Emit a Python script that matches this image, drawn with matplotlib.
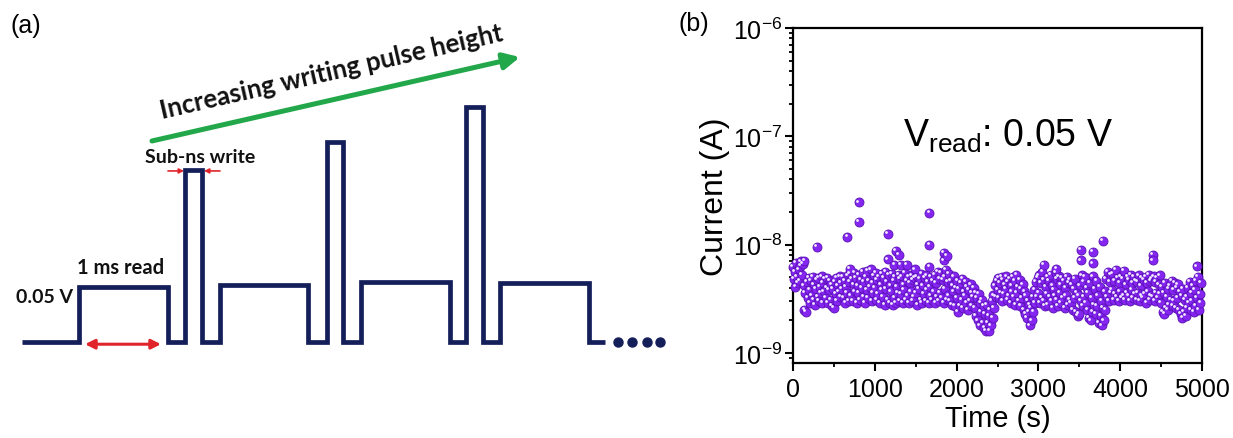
import numpy as np
import matplotlib
matplotlib.use("Agg")
import matplotlib.pyplot as plt
from matplotlib.transforms import ScaledTranslation
from matplotlib.ticker import LogLocator, MultipleLocator, NullFormatter

plt.rcParams["font.family"] = ["Liberation Sans", "DejaVu Sans"]
plt.rcParams["mathtext.fontset"] = "custom"
plt.rcParams["mathtext.rm"] = "Liberation Sans"
plt.rcParams["mathtext.it"] = "Liberation Sans:italic"
plt.rcParams["mathtext.default"] = "regular"
plt.rcParams["axes.unicode_minus"] = False

# -----------------------------
# Data
# -----------------------------

# (a) pulse scheme: step edges (arb. time units) and levels between edges (units of read level)
edge_t = [22, 79, 168, 185, 202, 220, 308, 327, 343, 361, 450, 466, 483, 500, 589, 605]
level = [0, 1.0, 0, 3.13, 0, 1.04, 0, 3.64, 0, 1.09, 0, 4.27, 0, 1.07, 0]
dots_t = [618, 632, 647, 660]

# (b) retention: current read every 10 s, in nA
time_s = np.arange(0, 5000, 10)
current_nA = [
    6.2, 4.8, 5.6, 4.1, 6.8, 5.0, 4.4, 5.9, 4.6, 6.4,
    7.0, 5.3, 6.6, 4.2, 2.5, 3.6, 2.4, 4.5, 3.2, 4.9,
    3.8, 2.9, 4.6, 3.4, 5.0, 3.1, 4.3, 2.8, 3.9, 4.7,
    3.3, 4.9, 3.0, 4.1, 3.6, 5.1, 2.9, 4.4, 3.7, 4.8,
    3.2, 4.0, 4.9, 2.9, 3.8, 4.6, 3.1, 4.3, 2.7, 3.9,
    2.6, 4.5, 3.5, 4.9, 3.0, 4.2, 3.7, 5.1, 3.3, 4.4,
    3.9, 5.0, 3.2, 4.6, 2.9, 4.1, 3.6, 5.2, 3.0, 4.5,
    5.4, 3.4, 4.8, 3.0, 4.3, 5.5, 3.7, 4.9, 2.9, 4.2,
    3.6, 5.3, 3.1, 4.7, 4.0, 5.6, 3.3, 4.5, 2.9, 5.0,
    3.8, 5.7, 3.2, 4.6, 4.1, 5.9, 3.0, 4.4, 3.6, 5.2,
    4.0, 5.5, 3.1, 4.7, 3.5, 5.0, 2.9, 4.3, 3.8, 5.4,
    3.3, 4.9, 2.8, 5.6, 3.9, 4.5, 3.1, 5.3, 2.9, 4.2,
    3.7, 5.4, 2.8, 4.6, 3.2, 5.0, 2.9, 4.1, 3.6, 5.3,
    3.0, 4.8, 3.5, 5.1, 2.9, 4.3, 3.8, 5.5, 3.1, 4.6,
    3.4, 5.0, 2.9, 4.4, 3.7, 5.2, 3.0, 4.7, 3.3, 4.9,
    3.6, 5.1, 2.8, 4.3, 3.9, 4.8, 3.1, 5.4, 2.9, 4.2,
    3.5, 4.9, 3.0, 5.2, 3.8, 4.5, 2.9, 4.1, 3.4, 5.0,
    3.1, 4.6, 3.7, 5.3, 2.9, 4.4, 3.3, 5.6, 3.0, 4.8,
    3.6, 5.5, 3.2, 4.7, 2.9, 5.0, 3.9, 5.8, 3.1, 4.5,
    3.4, 5.4, 3.0, 4.6, 2.8, 4.2, 3.7, 5.1, 2.7, 4.0,
    3.2, 4.6, 2.4, 3.9, 2.7, 4.4, 3.1, 4.8, 2.6, 3.7,
    3.4, 4.5, 2.9, 4.1, 2.5, 3.8, 3.0, 4.3, 2.7, 3.6,
    3.3, 4.0, 2.6, 3.6, 2.2, 3.2, 2.0, 3.5, 1.8, 2.9,
    2.4, 3.1, 1.9, 2.7, 1.7, 2.3, 1.6, 2.8, 1.9, 2.2,
    1.6, 2.5, 1.8, 3.0, 2.1, 3.4, 2.6, 4.2, 3.3, 4.6,
    3.8, 4.9, 3.2, 4.4, 3.6, 5.0, 3.0, 4.7, 3.5, 4.3,
    3.9, 5.1, 3.1, 4.5, 3.4, 4.8, 2.9, 4.2, 3.7, 5.0,
    3.3, 4.6, 2.8, 5.3, 3.6, 4.1, 3.0, 4.7, 2.7, 3.9,
    3.2, 4.3, 2.5, 3.7, 2.3, 3.4, 2.1, 3.0, 2.4, 2.8,
    1.8, 2.6, 2.0, 3.3, 2.4, 3.8, 2.9, 4.5, 3.3, 4.9,
    3.6, 5.2, 2.9, 4.4, 3.2, 5.6, 3.0, 4.7, 2.7, 4.1,
    3.5, 5.0, 2.8, 4.6, 3.3, 5.3, 3.0, 4.2, 2.6, 3.8,
    3.4, 5.5, 3.1, 4.8, 2.7, 5.1, 3.6, 4.3, 2.9, 4.9,
    3.2, 4.6, 2.6, 4.0, 3.4, 5.0, 2.8, 4.4, 3.1, 4.7,
    2.9, 4.3, 2.5, 3.9, 3.2, 4.8, 2.4, 3.6, 2.2, 3.4,
    2.3, 4.2, 3.0, 5.2, 2.7, 4.5, 3.3, 5.0, 2.9, 4.0,
    2.5, 3.6, 2.1, 4.4, 2.0, 3.2, 2.4, 5.1, 2.8, 3.9,
    2.3, 4.6, 2.7, 3.4, 1.9, 4.1, 2.2, 3.0, 1.8, 2.6,
    2.0, 3.7, 2.5, 4.8, 3.3, 5.6, 3.0, 4.5, 3.6, 5.3,
    3.8, 5.4, 3.1, 4.6, 3.5, 5.8, 3.3, 4.9, 3.0, 4.4,
    3.7, 5.1, 3.2, 4.8, 3.4, 5.7, 3.1, 4.3, 3.6, 5.0,
    3.4, 4.7, 3.0, 5.3, 3.8, 4.4, 3.2, 5.0, 3.5, 4.6,
    3.1, 4.5, 3.6, 5.2, 3.0, 4.2, 3.4, 4.9, 3.2, 4.7,
    3.5, 5.0, 2.9, 4.4, 3.7, 5.3, 3.1, 4.6, 3.4, 4.8,
    3.3, 5.1, 3.0, 4.5, 3.6, 4.9, 3.2, 4.3, 3.5, 5.2,
    2.9, 4.1, 2.4, 3.6, 2.3, 4.4, 2.6, 3.3, 2.5, 3.9,
    2.8, 4.2, 3.1, 4.6, 2.7, 3.8, 3.0, 4.4, 2.6, 4.0,
    3.2, 4.3, 2.5, 3.7, 2.3, 3.4, 2.1, 3.9, 2.4, 3.1,
    2.2, 3.3, 2.6, 4.0, 2.9, 4.5, 2.5, 3.6, 3.0, 4.2,
    2.4, 3.8, 2.7, 4.6, 3.2, 5.0, 2.5, 3.5, 2.9, 4.4,
]
# isolated high readings (s, nA)
spike_t = [140, 290, 664, 697, 807, 807, 1157, 1157, 1240, 1260, 1296, 1320, 1390, 1490,
           1667, 1667, 1667, 1846, 1846, 1883, 3069, 3220, 3517, 3517, 3664, 3664, 3793,
           4397, 4397, 4935]
spike_nA = [7.1, 9.6, 11.7, 6.0, 24.5, 16.2, 12.6, 7.3, 6.5, 8.8, 8.1, 6.5, 6.5, 5.9,
            19.7, 10.0, 6.2, 8.4, 7.15, 7.85, 6.5, 6.0, 9.0, 7.15, 8.55, 6.7, 10.9,
            8.1, 7.15, 6.3]

y_ticks = [1e-9, 1e-8, 1e-7, 1e-6]

W, H = 1233, 439
fig = plt.figure(figsize=(W / 100, H / 100), dpi=100)

# -----------------------------
# (a) pulse scheme
# -----------------------------
navy = "#141f5a"
red = "#e0242a"
green = "#22a84a"

ax_a = fig.add_axes([0, 0, 680 / W, 1])
ax_a.set_xlim(0, 680)
ax_a.set_ylim(-1.745, 6.236)
ax_a.axis("off")

ax_a.stairs(level, edge_t, baseline=None, color=navy, lw=3.4)
ax_a.plot(dots_t, [0] * len(dots_t), "o", color=navy, ms=6.5)

ax_a.annotate("", xy=(161, -0.04), xytext=(85, -0.04),
              arrowprops=dict(arrowstyle="<|-|>", color=red, lw=2.2,
                              mutation_scale=14, shrinkA=0, shrinkB=0))
ax_a.annotate("", xy=(184, 3.11), xytext=(168, 3.11),
              arrowprops=dict(arrowstyle="-|>", color=red, lw=1.2,
                              mutation_scale=7, shrinkA=0, shrinkB=0))
ax_a.annotate("", xy=(204, 3.11), xytext=(220, 3.11),
              arrowprops=dict(arrowstyle="-|>", color=red, lw=1.2,
                              mutation_scale=7, shrinkA=0, shrinkB=0))
ax_a.annotate("", xy=(520, 5.18), xytext=(152, 3.655),
              arrowprops=dict(arrowstyle="-|>", color=green, lw=3.6,
                              mutation_scale=24, shrinkA=0, shrinkB=0))

lab = dict(family=["Lato", "DejaVu Sans"], fontweight="bold", color="#111111")
ax_a.text(333, 4.78, "Increasing writing pulse height", fontsize=18.5, rotation=12.9,
          rotation_mode="anchor", ha="center", va="baseline", **lab)
ax_a.text(200, 3.38, "Sub-ns write", fontsize=14, ha="center", va="center", **lab)
ax_a.text(121, 1.36, "1 ms read", fontsize=14.5, ha="center", va="center", **lab)
ax_a.text(45, 0.82, "0.05 V", fontsize=14, ha="center", va="center", **lab)

fig.text(11 / W, 1 - 26 / H, "(a)", fontsize=18, va="center", ha="left")
fig.text(678 / W, 1 - 24 / H, "(b)", fontsize=18, va="center", ha="left")

# -----------------------------
# (b) retention
# -----------------------------
ax_b = fig.add_axes([793 / W, (H - 364) / H, (1202 - 793) / W, (364 - 29) / H])
ax_b.set_yscale("log")

t_all = np.concatenate([time_s, spike_t])
i_all = np.concatenate([current_nA, spike_nA]) * 1e-9

ax_b.scatter(t_all, i_all, s=42, c="#8526f0", edgecolors="#5a10b5", linewidths=0.6,
             zorder=3, clip_on=False)
shift = ax_b.transData + ScaledTranslation(-1.3 / 72, 1.3 / 72, fig.dpi_scale_trans)
ax_b.scatter(t_all, i_all, s=4, c="#f2eaff", linewidths=0, zorder=4,
             transform=shift, clip_on=False)

ax_b.set_xlim(0, 5000)
ax_b.set_ylim(8.08e-10, 1e-6)
ax_b.xaxis.set_major_locator(MultipleLocator(1000))
ax_b.xaxis.set_minor_locator(MultipleLocator(500))
ax_b.set_yticks(y_ticks)
ax_b.yaxis.set_minor_locator(LogLocator(base=10, subs=np.arange(2, 10), numticks=20))
ax_b.yaxis.set_minor_formatter(NullFormatter())

for s in ax_b.spines.values():
    s.set_linewidth(1.6)
ax_b.tick_params(which="major", direction="out", length=6, width=1.5, labelsize=18, pad=2)
ax_b.tick_params(which="minor", direction="out", length=3, width=1.3,
                 labelleft=False, labelbottom=False)
ax_b.tick_params(axis="x", which="major", pad=4)

ax_b.set_xlabel("Time (s)", fontsize=21, labelpad=2)
ax_b.set_ylabel("Current (A)", fontsize=23, labelpad=2)

ax_b.text(0.269, 0.648, r"V$_{read}$: 0.05 V", transform=ax_b.transAxes,
          fontsize=27, ha="left", va="baseline")

fig.savefig("out.png", dpi=100)
